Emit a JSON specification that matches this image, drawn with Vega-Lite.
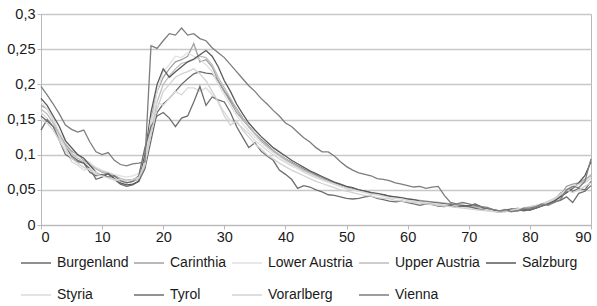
{
  "$schema": "https://vega.github.io/schema/vega-lite/v6.json",
  "width": 550,
  "height": 211,
  "autosize": "none",
  "padding": {"left": 41, "top": 14, "right": 6, "bottom": 81},
  "background": "#ffffff",
  "config": {
    "locale": {"number": {"decimal": ",", "thousands": ".", "grouping": [3], "currency": ["", " €"]}},
    "view": {"stroke": "#b8b8b8", "strokeWidth": 1},
    "font": "Liberation Sans",
    "axis": {
      "labelFont": "Liberation Sans",
      "labelFontSize": 14.5,
      "labelColor": "#1a1a1a",
      "domainColor": "#b8b8b8",
      "tickColor": "#b8b8b8",
      "tickSize": 4,
      "gridColor": "#c8c8c8",
      "gridWidth": 1.5,
      "title": null
    },
    "legend": {
      "labelFont": "Liberation Sans",
      "labelFontSize": 14,
      "labelColor": "#1a1a1a"
    }
  },
  "data": {
    "values": [
      {"x":0,"Burgenland":0.155,"Carinthia":0.17,"Lower Austria":0.175,"Upper Austria":0.165,"Salzburg":0.18,"Styria":0.16,"Tyrol":0.135,"Vorarlberg":0.15,"Vienna":0.197},
      {"x":1,"Burgenland":0.148,"Carinthia":0.165,"Lower Austria":0.165,"Upper Austria":0.158,"Salzburg":0.17,"Styria":0.152,"Tyrol":0.15,"Vorarlberg":0.145,"Vienna":0.185},
      {"x":2,"Burgenland":0.14,"Carinthia":0.15,"Lower Austria":0.15,"Upper Austria":0.145,"Salzburg":0.155,"Styria":0.14,"Tyrol":0.14,"Vorarlberg":0.135,"Vienna":0.172},
      {"x":3,"Burgenland":0.13,"Carinthia":0.13,"Lower Austria":0.132,"Upper Austria":0.128,"Salzburg":0.14,"Styria":0.125,"Tyrol":0.12,"Vorarlberg":0.12,"Vienna":0.158},
      {"x":4,"Burgenland":0.112,"Carinthia":0.115,"Lower Austria":0.118,"Upper Austria":0.112,"Salzburg":0.12,"Styria":0.11,"Tyrol":0.1,"Vorarlberg":0.105,"Vienna":0.142},
      {"x":5,"Burgenland":0.098,"Carinthia":0.105,"Lower Austria":0.108,"Upper Austria":0.102,"Salzburg":0.11,"Styria":0.09,"Tyrol":0.095,"Vorarlberg":0.095,"Vienna":0.136},
      {"x":6,"Burgenland":0.092,"Carinthia":0.1,"Lower Austria":0.1,"Upper Austria":0.095,"Salzburg":0.1,"Styria":0.085,"Tyrol":0.09,"Vorarlberg":0.088,"Vienna":0.132},
      {"x":7,"Burgenland":0.088,"Carinthia":0.092,"Lower Austria":0.094,"Upper Austria":0.09,"Salzburg":0.095,"Styria":0.078,"Tyrol":0.088,"Vorarlberg":0.082,"Vienna":0.135},
      {"x":8,"Burgenland":0.08,"Carinthia":0.088,"Lower Austria":0.088,"Upper Austria":0.085,"Salzburg":0.085,"Styria":0.08,"Tyrol":0.075,"Vorarlberg":0.078,"Vienna":0.118},
      {"x":9,"Burgenland":0.065,"Carinthia":0.08,"Lower Austria":0.082,"Upper Austria":0.08,"Salzburg":0.075,"Styria":0.075,"Tyrol":0.07,"Vorarlberg":0.072,"Vienna":0.104},
      {"x":10,"Burgenland":0.068,"Carinthia":0.075,"Lower Austria":0.078,"Upper Austria":0.076,"Salzburg":0.07,"Styria":0.07,"Tyrol":0.072,"Vorarlberg":0.07,"Vienna":0.1},
      {"x":11,"Burgenland":0.073,"Carinthia":0.072,"Lower Austria":0.075,"Upper Austria":0.074,"Salzburg":0.073,"Styria":0.068,"Tyrol":0.068,"Vorarlberg":0.067,"Vienna":0.103},
      {"x":12,"Burgenland":0.065,"Carinthia":0.07,"Lower Austria":0.072,"Upper Austria":0.07,"Salzburg":0.066,"Styria":0.065,"Tyrol":0.07,"Vorarlberg":0.064,"Vienna":0.092},
      {"x":13,"Burgenland":0.058,"Carinthia":0.066,"Lower Austria":0.07,"Upper Austria":0.066,"Salzburg":0.06,"Styria":0.062,"Tyrol":0.063,"Vorarlberg":0.065,"Vienna":0.086},
      {"x":14,"Burgenland":0.055,"Carinthia":0.06,"Lower Austria":0.068,"Upper Austria":0.064,"Salzburg":0.057,"Styria":0.06,"Tyrol":0.06,"Vorarlberg":0.062,"Vienna":0.084},
      {"x":15,"Burgenland":0.057,"Carinthia":0.062,"Lower Austria":0.07,"Upper Austria":0.065,"Salzburg":0.058,"Styria":0.063,"Tyrol":0.062,"Vorarlberg":0.064,"Vienna":0.087},
      {"x":16,"Burgenland":0.062,"Carinthia":0.065,"Lower Austria":0.073,"Upper Austria":0.068,"Salzburg":0.062,"Styria":0.066,"Tyrol":0.07,"Vorarlberg":0.068,"Vienna":0.088},
      {"x":17,"Burgenland":0.08,"Carinthia":0.085,"Lower Austria":0.09,"Upper Austria":0.088,"Salzburg":0.1,"Styria":0.09,"Tyrol":0.11,"Vorarlberg":0.085,"Vienna":0.09},
      {"x":18,"Burgenland":0.12,"Carinthia":0.15,"Lower Austria":0.14,"Upper Austria":0.13,"Salzburg":0.16,"Styria":0.15,"Tyrol":0.14,"Vorarlberg":0.13,"Vienna":0.255},
      {"x":19,"Burgenland":0.16,"Carinthia":0.19,"Lower Austria":0.19,"Upper Austria":0.175,"Salzburg":0.2,"Styria":0.175,"Tyrol":0.155,"Vorarlberg":0.165,"Vienna":0.251},
      {"x":20,"Burgenland":0.172,"Carinthia":0.21,"Lower Austria":0.218,"Upper Austria":0.2,"Salzburg":0.222,"Styria":0.17,"Tyrol":0.16,"Vorarlberg":0.19,"Vienna":0.262},
      {"x":21,"Burgenland":0.18,"Carinthia":0.222,"Lower Austria":0.228,"Upper Austria":0.212,"Salzburg":0.21,"Styria":0.18,"Tyrol":0.152,"Vorarlberg":0.2,"Vienna":0.272},
      {"x":22,"Burgenland":0.19,"Carinthia":0.232,"Lower Austria":0.24,"Upper Austria":0.222,"Salzburg":0.218,"Styria":0.19,"Tyrol":0.14,"Vorarlberg":0.21,"Vienna":0.27},
      {"x":23,"Burgenland":0.2,"Carinthia":0.235,"Lower Austria":0.238,"Upper Austria":0.23,"Salzburg":0.225,"Styria":0.185,"Tyrol":0.152,"Vorarlberg":0.215,"Vienna":0.28},
      {"x":24,"Burgenland":0.208,"Carinthia":0.24,"Lower Austria":0.245,"Upper Austria":0.232,"Salzburg":0.232,"Styria":0.195,"Tyrol":0.155,"Vorarlberg":0.218,"Vienna":0.27},
      {"x":25,"Burgenland":0.215,"Carinthia":0.258,"Lower Austria":0.24,"Upper Austria":0.235,"Salzburg":0.236,"Styria":0.195,"Tyrol":0.175,"Vorarlberg":0.222,"Vienna":0.272},
      {"x":26,"Burgenland":0.218,"Carinthia":0.232,"Lower Austria":0.235,"Upper Austria":0.24,"Salzburg":0.242,"Styria":0.19,"Tyrol":0.197,"Vorarlberg":0.215,"Vienna":0.265},
      {"x":27,"Burgenland":0.216,"Carinthia":0.235,"Lower Austria":0.228,"Upper Austria":0.238,"Salzburg":0.248,"Styria":0.195,"Tyrol":0.17,"Vorarlberg":0.205,"Vienna":0.262},
      {"x":28,"Burgenland":0.215,"Carinthia":0.225,"Lower Austria":0.218,"Upper Austria":0.228,"Salzburg":0.24,"Styria":0.185,"Tyrol":0.182,"Vorarlberg":0.19,"Vienna":0.252},
      {"x":29,"Burgenland":0.205,"Carinthia":0.205,"Lower Austria":0.2,"Upper Austria":0.21,"Salzburg":0.225,"Styria":0.175,"Tyrol":0.178,"Vorarlberg":0.175,"Vienna":0.245},
      {"x":30,"Burgenland":0.19,"Carinthia":0.19,"Lower Austria":0.185,"Upper Austria":0.195,"Salzburg":0.205,"Styria":0.16,"Tyrol":0.175,"Vorarlberg":0.155,"Vienna":0.238},
      {"x":31,"Burgenland":0.178,"Carinthia":0.175,"Lower Austria":0.17,"Upper Austria":0.18,"Salzburg":0.19,"Styria":0.148,"Tyrol":0.16,"Vorarlberg":0.142,"Vienna":0.228},
      {"x":32,"Burgenland":0.165,"Carinthia":0.16,"Lower Austria":0.156,"Upper Austria":0.165,"Salzburg":0.172,"Styria":0.145,"Tyrol":0.14,"Vorarlberg":0.148,"Vienna":0.218},
      {"x":33,"Burgenland":0.152,"Carinthia":0.15,"Lower Austria":0.144,"Upper Austria":0.152,"Salzburg":0.158,"Styria":0.138,"Tyrol":0.125,"Vorarlberg":0.135,"Vienna":0.208},
      {"x":34,"Burgenland":0.14,"Carinthia":0.14,"Lower Austria":0.134,"Upper Austria":0.14,"Salzburg":0.145,"Styria":0.13,"Tyrol":0.11,"Vorarlberg":0.125,"Vienna":0.198},
      {"x":35,"Burgenland":0.13,"Carinthia":0.13,"Lower Austria":0.125,"Upper Austria":0.13,"Salzburg":0.135,"Styria":0.12,"Tyrol":0.117,"Vorarlberg":0.115,"Vienna":0.19},
      {"x":36,"Burgenland":0.122,"Carinthia":0.12,"Lower Austria":0.117,"Upper Austria":0.121,"Salzburg":0.126,"Styria":0.113,"Tyrol":0.105,"Vorarlberg":0.108,"Vienna":0.18},
      {"x":37,"Burgenland":0.114,"Carinthia":0.112,"Lower Austria":0.11,"Upper Austria":0.113,"Salzburg":0.118,"Styria":0.106,"Tyrol":0.098,"Vorarlberg":0.1,"Vienna":0.172},
      {"x":38,"Burgenland":0.106,"Carinthia":0.105,"Lower Austria":0.103,"Upper Austria":0.106,"Salzburg":0.11,"Styria":0.1,"Tyrol":0.092,"Vorarlberg":0.094,"Vienna":0.163},
      {"x":39,"Burgenland":0.1,"Carinthia":0.098,"Lower Austria":0.097,"Upper Austria":0.1,"Salzburg":0.104,"Styria":0.094,"Tyrol":0.078,"Vorarlberg":0.088,"Vienna":0.155},
      {"x":40,"Burgenland":0.094,"Carinthia":0.093,"Lower Austria":0.091,"Upper Austria":0.094,"Salzburg":0.098,"Styria":0.089,"Tyrol":0.072,"Vorarlberg":0.083,"Vienna":0.145},
      {"x":41,"Burgenland":0.089,"Carinthia":0.088,"Lower Austria":0.086,"Upper Austria":0.088,"Salzburg":0.092,"Styria":0.084,"Tyrol":0.065,"Vorarlberg":0.078,"Vienna":0.14},
      {"x":42,"Burgenland":0.084,"Carinthia":0.083,"Lower Austria":0.081,"Upper Austria":0.083,"Salzburg":0.087,"Styria":0.08,"Tyrol":0.052,"Vorarlberg":0.074,"Vienna":0.132},
      {"x":43,"Burgenland":0.079,"Carinthia":0.078,"Lower Austria":0.076,"Upper Austria":0.078,"Salzburg":0.082,"Styria":0.075,"Tyrol":0.056,"Vorarlberg":0.07,"Vienna":0.124},
      {"x":44,"Burgenland":0.075,"Carinthia":0.074,"Lower Austria":0.072,"Upper Austria":0.074,"Salzburg":0.077,"Styria":0.071,"Tyrol":0.054,"Vorarlberg":0.066,"Vienna":0.118},
      {"x":45,"Burgenland":0.071,"Carinthia":0.07,"Lower Austria":0.068,"Upper Austria":0.07,"Salzburg":0.073,"Styria":0.067,"Tyrol":0.05,"Vorarlberg":0.062,"Vienna":0.11},
      {"x":46,"Burgenland":0.067,"Carinthia":0.066,"Lower Austria":0.064,"Upper Austria":0.066,"Salzburg":0.069,"Styria":0.064,"Tyrol":0.047,"Vorarlberg":0.059,"Vienna":0.104},
      {"x":47,"Burgenland":0.063,"Carinthia":0.062,"Lower Austria":0.061,"Upper Austria":0.062,"Salzburg":0.065,"Styria":0.061,"Tyrol":0.043,"Vorarlberg":0.056,"Vienna":0.104},
      {"x":48,"Burgenland":0.06,"Carinthia":0.058,"Lower Austria":0.058,"Upper Austria":0.059,"Salzburg":0.061,"Styria":0.058,"Tyrol":0.042,"Vorarlberg":0.053,"Vienna":0.098},
      {"x":49,"Burgenland":0.057,"Carinthia":0.055,"Lower Austria":0.055,"Upper Austria":0.056,"Salzburg":0.058,"Styria":0.055,"Tyrol":0.04,"Vorarlberg":0.05,"Vienna":0.09},
      {"x":50,"Burgenland":0.054,"Carinthia":0.052,"Lower Austria":0.052,"Upper Austria":0.053,"Salzburg":0.055,"Styria":0.052,"Tyrol":0.038,"Vorarlberg":0.048,"Vienna":0.083},
      {"x":51,"Burgenland":0.052,"Carinthia":0.05,"Lower Austria":0.05,"Upper Austria":0.051,"Salzburg":0.053,"Styria":0.05,"Tyrol":0.037,"Vorarlberg":0.046,"Vienna":0.078},
      {"x":52,"Burgenland":0.05,"Carinthia":0.049,"Lower Austria":0.048,"Upper Austria":0.049,"Salzburg":0.05,"Styria":0.048,"Tyrol":0.038,"Vorarlberg":0.044,"Vienna":0.074},
      {"x":53,"Burgenland":0.048,"Carinthia":0.047,"Lower Austria":0.046,"Upper Austria":0.047,"Salzburg":0.048,"Styria":0.046,"Tyrol":0.04,"Vorarlberg":0.042,"Vienna":0.072},
      {"x":54,"Burgenland":0.046,"Carinthia":0.046,"Lower Austria":0.044,"Upper Austria":0.045,"Salzburg":0.046,"Styria":0.044,"Tyrol":0.041,"Vorarlberg":0.041,"Vienna":0.07},
      {"x":55,"Burgenland":0.044,"Carinthia":0.044,"Lower Austria":0.043,"Upper Austria":0.044,"Salzburg":0.045,"Styria":0.043,"Tyrol":0.038,"Vorarlberg":0.039,"Vienna":0.066},
      {"x":56,"Burgenland":0.043,"Carinthia":0.042,"Lower Austria":0.041,"Upper Austria":0.042,"Salzburg":0.043,"Styria":0.041,"Tyrol":0.036,"Vorarlberg":0.038,"Vienna":0.065},
      {"x":57,"Burgenland":0.041,"Carinthia":0.041,"Lower Austria":0.04,"Upper Austria":0.04,"Salzburg":0.041,"Styria":0.039,"Tyrol":0.034,"Vorarlberg":0.037,"Vienna":0.063},
      {"x":58,"Burgenland":0.039,"Carinthia":0.04,"Lower Austria":0.038,"Upper Austria":0.039,"Salzburg":0.04,"Styria":0.038,"Tyrol":0.033,"Vorarlberg":0.035,"Vienna":0.06},
      {"x":59,"Burgenland":0.038,"Carinthia":0.038,"Lower Austria":0.037,"Upper Austria":0.038,"Salzburg":0.039,"Styria":0.037,"Tyrol":0.034,"Vorarlberg":0.034,"Vienna":0.058},
      {"x":60,"Burgenland":0.036,"Carinthia":0.037,"Lower Austria":0.035,"Upper Austria":0.036,"Salzburg":0.037,"Styria":0.035,"Tyrol":0.032,"Vorarlberg":0.033,"Vienna":0.056},
      {"x":61,"Burgenland":0.035,"Carinthia":0.036,"Lower Austria":0.034,"Upper Austria":0.035,"Salzburg":0.036,"Styria":0.034,"Tyrol":0.03,"Vorarlberg":0.032,"Vienna":0.054},
      {"x":62,"Burgenland":0.034,"Carinthia":0.035,"Lower Austria":0.033,"Upper Austria":0.034,"Salzburg":0.034,"Styria":0.033,"Tyrol":0.028,"Vorarlberg":0.031,"Vienna":0.055},
      {"x":63,"Burgenland":0.033,"Carinthia":0.034,"Lower Austria":0.032,"Upper Austria":0.033,"Salzburg":0.033,"Styria":0.032,"Tyrol":0.03,"Vorarlberg":0.03,"Vienna":0.052},
      {"x":64,"Burgenland":0.031,"Carinthia":0.033,"Lower Austria":0.031,"Upper Austria":0.032,"Salzburg":0.032,"Styria":0.031,"Tyrol":0.029,"Vorarlberg":0.029,"Vienna":0.054},
      {"x":65,"Burgenland":0.03,"Carinthia":0.032,"Lower Austria":0.03,"Upper Austria":0.031,"Salzburg":0.031,"Styria":0.03,"Tyrol":0.027,"Vorarlberg":0.028,"Vienna":0.055},
      {"x":66,"Burgenland":0.029,"Carinthia":0.031,"Lower Austria":0.029,"Upper Austria":0.03,"Salzburg":0.03,"Styria":0.029,"Tyrol":0.026,"Vorarlberg":0.027,"Vienna":0.042},
      {"x":67,"Burgenland":0.03,"Carinthia":0.03,"Lower Austria":0.028,"Upper Austria":0.029,"Salzburg":0.029,"Styria":0.028,"Tyrol":0.028,"Vorarlberg":0.026,"Vienna":0.032},
      {"x":68,"Burgenland":0.028,"Carinthia":0.029,"Lower Austria":0.027,"Upper Austria":0.028,"Salzburg":0.028,"Styria":0.027,"Tyrol":0.025,"Vorarlberg":0.025,"Vienna":0.03},
      {"x":69,"Burgenland":0.027,"Carinthia":0.028,"Lower Austria":0.026,"Upper Austria":0.027,"Salzburg":0.028,"Styria":0.026,"Tyrol":0.027,"Vorarlberg":0.024,"Vienna":0.032},
      {"x":70,"Burgenland":0.026,"Carinthia":0.027,"Lower Austria":0.025,"Upper Austria":0.026,"Salzburg":0.027,"Styria":0.025,"Tyrol":0.026,"Vorarlberg":0.023,"Vienna":0.03},
      {"x":71,"Burgenland":0.025,"Carinthia":0.027,"Lower Austria":0.024,"Upper Austria":0.025,"Salzburg":0.03,"Styria":0.024,"Tyrol":0.024,"Vorarlberg":0.022,"Vienna":0.028},
      {"x":72,"Burgenland":0.024,"Carinthia":0.025,"Lower Austria":0.023,"Upper Austria":0.024,"Salzburg":0.026,"Styria":0.023,"Tyrol":0.022,"Vorarlberg":0.021,"Vienna":0.026},
      {"x":73,"Burgenland":0.022,"Carinthia":0.023,"Lower Austria":0.022,"Upper Austria":0.022,"Salzburg":0.022,"Styria":0.022,"Tyrol":0.024,"Vorarlberg":0.02,"Vienna":0.025},
      {"x":74,"Burgenland":0.02,"Carinthia":0.021,"Lower Austria":0.021,"Upper Austria":0.021,"Salzburg":0.021,"Styria":0.02,"Tyrol":0.022,"Vorarlberg":0.019,"Vienna":0.022},
      {"x":75,"Burgenland":0.018,"Carinthia":0.019,"Lower Austria":0.02,"Upper Austria":0.019,"Salzburg":0.02,"Styria":0.019,"Tyrol":0.02,"Vorarlberg":0.018,"Vienna":0.02},
      {"x":76,"Burgenland":0.02,"Carinthia":0.02,"Lower Austria":0.02,"Upper Austria":0.02,"Salzburg":0.021,"Styria":0.02,"Tyrol":0.019,"Vorarlberg":0.019,"Vienna":0.022},
      {"x":77,"Burgenland":0.019,"Carinthia":0.022,"Lower Austria":0.021,"Upper Austria":0.021,"Salzburg":0.023,"Styria":0.021,"Tyrol":0.021,"Vorarlberg":0.021,"Vienna":0.019},
      {"x":78,"Burgenland":0.021,"Carinthia":0.024,"Lower Austria":0.022,"Upper Austria":0.022,"Salzburg":0.022,"Styria":0.023,"Tyrol":0.02,"Vorarlberg":0.022,"Vienna":0.02},
      {"x":79,"Burgenland":0.023,"Carinthia":0.022,"Lower Austria":0.024,"Upper Austria":0.023,"Salzburg":0.02,"Styria":0.024,"Tyrol":0.022,"Vorarlberg":0.024,"Vienna":0.024},
      {"x":80,"Burgenland":0.025,"Carinthia":0.023,"Lower Austria":0.025,"Upper Austria":0.025,"Salzburg":0.022,"Styria":0.026,"Tyrol":0.021,"Vorarlberg":0.026,"Vienna":0.024},
      {"x":81,"Burgenland":0.027,"Carinthia":0.025,"Lower Austria":0.027,"Upper Austria":0.027,"Salzburg":0.024,"Styria":0.028,"Tyrol":0.024,"Vorarlberg":0.028,"Vienna":0.026},
      {"x":82,"Burgenland":0.029,"Carinthia":0.028,"Lower Austria":0.03,"Upper Austria":0.029,"Salzburg":0.027,"Styria":0.03,"Tyrol":0.027,"Vorarlberg":0.03,"Vienna":0.03},
      {"x":83,"Burgenland":0.031,"Carinthia":0.032,"Lower Austria":0.033,"Upper Austria":0.032,"Salzburg":0.03,"Styria":0.033,"Tyrol":0.03,"Vorarlberg":0.034,"Vienna":0.028},
      {"x":84,"Burgenland":0.035,"Carinthia":0.036,"Lower Austria":0.037,"Upper Austria":0.036,"Salzburg":0.034,"Styria":0.037,"Tyrol":0.033,"Vorarlberg":0.038,"Vienna":0.032},
      {"x":85,"Burgenland":0.045,"Carinthia":0.042,"Lower Austria":0.043,"Upper Austria":0.042,"Salzburg":0.04,"Styria":0.044,"Tyrol":0.035,"Vorarlberg":0.044,"Vienna":0.036},
      {"x":86,"Burgenland":0.05,"Carinthia":0.055,"Lower Austria":0.05,"Upper Austria":0.048,"Salzburg":0.046,"Styria":0.05,"Tyrol":0.04,"Vorarlberg":0.05,"Vienna":0.05},
      {"x":87,"Burgenland":0.048,"Carinthia":0.058,"Lower Austria":0.055,"Upper Austria":0.054,"Salzburg":0.052,"Styria":0.054,"Tyrol":0.032,"Vorarlberg":0.046,"Vienna":0.055},
      {"x":88,"Burgenland":0.052,"Carinthia":0.06,"Lower Austria":0.058,"Upper Austria":0.058,"Salzburg":0.06,"Styria":0.058,"Tyrol":0.045,"Vorarlberg":0.05,"Vienna":0.053},
      {"x":89,"Burgenland":0.05,"Carinthia":0.065,"Lower Austria":0.062,"Upper Austria":0.063,"Salzburg":0.07,"Styria":0.06,"Tyrol":0.048,"Vorarlberg":0.055,"Vienna":0.062},
      {"x":90,"Burgenland":0.062,"Carinthia":0.07,"Lower Austria":0.068,"Upper Austria":0.072,"Salzburg":0.09,"Styria":0.066,"Tyrol":0.056,"Vorarlberg":0.06,"Vienna":0.094}
    ]
  },
  "transform": [
    {"fold": ["Burgenland","Carinthia","Lower Austria","Upper Austria","Salzburg","Styria","Tyrol","Vorarlberg","Vienna"], "as": ["region","value"]}
  ],
  "mark": {"type": "line", "strokeWidth": 1.3, "clip": false},
  "encoding": {
    "x": {
      "field": "x", "type": "quantitative",
      "scale": {"domain": [0, 90], "nice": false, "zero": false},
      "axis": {"values": [0,10,20,30,40,50,60,70,80,90], "grid": false, "labelPadding": 1, "format": "d"}
    },
    "y": {
      "field": "value", "type": "quantitative",
      "scale": {"domain": [0, 0.3], "nice": false},
      "axis": {"values": [0,0.05,0.1,0.15,0.2,0.25,0.3], "format": ".2~f", "grid": true, "labelPadding": 2}
    },
    "color": {
      "field": "region", "type": "nominal",
      "scale": {
        "domain": ["Burgenland","Carinthia","Lower Austria","Upper Austria","Salzburg","Styria","Tyrol","Vorarlberg","Vienna"],
        "range": ["#6a6a6a","#a0a0a0","#e0e0e0","#bdbdbd","#595959","#dadada","#6e6e6e","#d2d2d2","#7d7d7d"]
      },
      "legend": {
        "title": null,
        "orient": "none",
        "legendX": -21,
        "legendY": 233,
        "direction": "horizontal",
        "columns": 5,
        "symbolType": "stroke",
        "symbolSize": 900,
        "symbolStrokeWidth": 1.5,
        "labelOffset": 5,
        "columnPadding": 2,
        "rowPadding": 9,
        "padding": 0
      }
    }
  }
}
